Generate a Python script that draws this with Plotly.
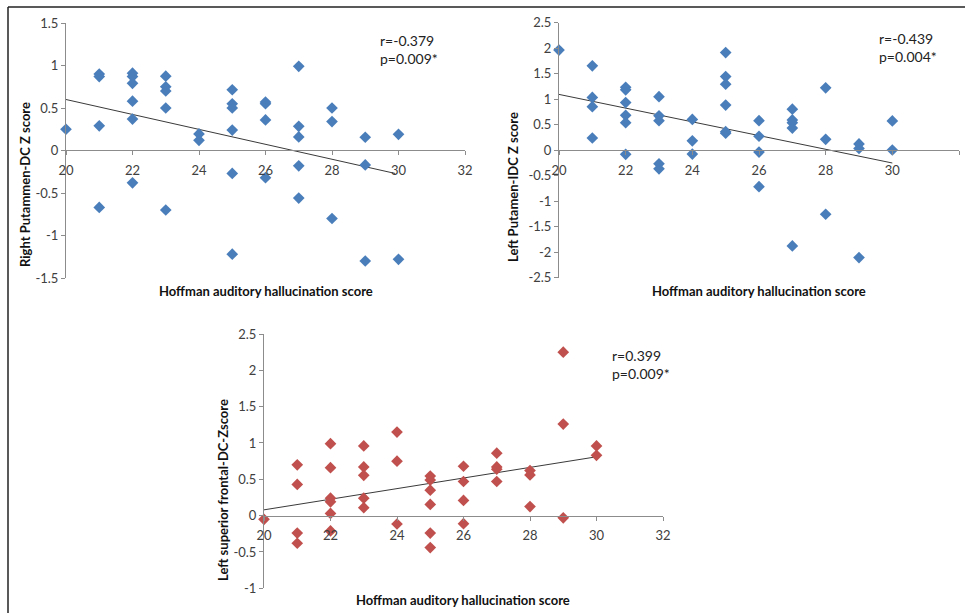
import plotly.graph_objects as go

W, H = 965, 613

# ---------------- data ----------------
# Panel A: Right Putammen-DC Z score
a_x = [20, 21, 21, 21, 21, 22, 22, 22, 22, 22, 22,
       23, 23, 23, 23, 23, 24, 24, 25, 25, 25, 25, 25, 25,
       26, 26, 26, 26, 27, 27, 27, 27, 27, 28, 28, 28, 29, 29, 29, 30, 30]
a_y = [0.25, 0.90, 0.87, 0.29, -0.67, 0.91, 0.87, 0.79, 0.58, 0.37, -0.38,
       0.875, 0.75, 0.70, 0.50, -0.70, 0.195, 0.12, 0.715, 0.55, 0.50, 0.24, -0.27, -1.22,
       0.57, 0.55, 0.36, -0.32, 0.99, 0.285, 0.16, -0.18, -0.56, 0.50, 0.34, -0.80,
       0.156, -0.17, -1.30, 0.19, -1.28]
a_trend_x = [20, 29.9]
a_trend_y = [0.60, -0.27]

# Panel B: Left Putamen-IDC Z score
b_x = [20, 21, 21, 21, 21, 22, 22, 22, 22, 22, 22,
       23, 23, 23, 23, 23, 24, 24, 24, 25, 25, 25, 25, 25, 25,
       26, 26, 26, 26, 27, 27, 27, 27, 27, 28, 28, 28, 29, 29, 29, 30, 30]
b_y = [1.96, 1.65, 1.03, 0.85, 0.235, 1.23, 1.18, 0.93, 0.68, 0.535, -0.085,
       1.045, 0.67, 0.575, -0.27, -0.37, 0.60, 0.18, -0.08, 1.91, 1.44, 1.29, 0.88, 0.36, 0.33,
       0.575, 0.27, -0.04, -0.72, 0.80, 0.59, 0.535, 0.43, -1.88, 1.22, 0.21, -1.26,
       0.12, 0.03, -2.11, 0.57, 0.0]
b_trend_x = [20, 30]
b_trend_y = [1.09, -0.255]

# Panel C: Left superior frontal-DC-Zscore
c_x = [20, 21, 21, 21, 21, 22, 22, 22, 22, 22, 22,
       23, 23, 23, 23, 23, 24, 24, 24, 25, 25, 25, 25, 25, 25,
       26, 26, 26, 26, 27, 27, 27, 27, 28, 28, 28, 29, 29, 29, 30, 30]
c_y = [-0.05, 0.70, 0.43, -0.24, -0.38, 0.99, 0.66, 0.24, 0.19, 0.03, -0.21,
       0.96, 0.67, 0.555, 0.24, 0.11, 1.15, 0.75, -0.115, 0.545, 0.49, 0.35, 0.155, -0.24, -0.44,
       0.68, 0.47, 0.21, -0.11, 0.86, 0.67, 0.64, 0.47, 0.62, 0.56, 0.125, 2.25, 1.26, -0.03, 0.96, 0.83]
c_trend_x = [20, 30]
c_trend_y = [0.08, 0.81]

x_tickvals = [20, 22, 24, 26, 28, 30, 32]
x_ticktext = ["20", "22", "24", "26", "28", "30", "32"]
a_yvals = [-1.5, -1, -0.5, 0, 0.5, 1, 1.5]
a_ytext = ["-1.5", "-1", "-0.5", "0", "0.5", "1", "1.5"]
b_yvals = [-2.5, -2, -1.5, -1, -0.5, 0, 0.5, 1, 1.5, 2, 2.5]
b_ytext = ["-2.5", "-2", "-1.5", "-1", "-0.5", "0", "0.5", "1", "1.5", "2", "2.5"]
c_yvals = [-1, -0.5, 0, 0.5, 1, 1.5, 2, 2.5]
c_ytext = ["-1", "-0.5", "0", "0.5", "1", "1.5", "2", "2.5"]

x_title = "Hoffman auditory hallucination score"
a_ytitle = "Right Putammen-DC Z score"
b_ytitle = "Left Putamen-IDC Z score"
c_ytitle = "Left superior frontal-DC-Zscore"
a_stats = "r=-0.379<br>p=0.009*"
b_stats = "r=-0.439<br>p=0.004*"
c_stats = "r=0.399<br>p=0.009*"

BLUE = "#4A7EBB"
RED = "#C0504D"
FONT = "Lato"

def px(x):
    return x / W

def py(y):
    return 1 - y / H

fig = go.Figure()

panels = [
    (a_x, a_y, a_trend_x, a_trend_y, BLUE, "x", "y", (66, 465), (23, 278), 150, a_yvals, a_ytext, [-1.5, 1.5]),
    (b_x, b_y, b_trend_x, b_trend_y, BLUE, "x2", "y2", (559, 959), (22.5, 277.5), 150, b_yvals, b_ytext, [-2.5, 2.5]),
    (c_x, c_y, c_trend_x, c_trend_y, RED, "x3", "y3", (264, 663), (334, 588.3), 515.7, c_yvals, c_ytext, [-1, 2.5]),
]

layout_axes = {}
for i, (xs, ys, tx, ty, col, xa, ya, xr, yr, y0, yv, yt, yrange) in enumerate(panels):
    fig.add_trace(go.Scatter(x=tx, y=ty, mode="lines", xaxis=xa, yaxis=ya,
                             line=dict(color="#3a3a3a", width=1), hoverinfo="skip",
                             showlegend=False, cliponaxis=False))
    fig.add_trace(go.Scatter(x=xs, y=ys, mode="markers", xaxis=xa, yaxis=ya,
                             marker=dict(symbol="diamond", size=9, color=col,
                                         line=dict(width=0)),
                             showlegend=False, cliponaxis=False))
    suffix = "" if i == 0 else str(i + 1)
    layout_axes["xaxis" + suffix] = dict(
        domain=[px(xr[0]), px(xr[1])], range=[20, 32], anchor="free", position=py(y0),
        tickvals=x_tickvals, ticktext=x_ticktext, ticks="outside", ticklen=4,
        ticklabelstandoff=4,
        tickcolor="#8c8c8c", showline=True, linecolor="#8c8c8c", linewidth=1,
        showgrid=False, zeroline=False, tickfont=dict(family=FONT, size=13, color="#404040"),
        fixedrange=True, automargin=False)
    layout_axes["yaxis" + suffix] = dict(
        domain=[py(yr[1]), py(yr[0])], range=yrange, anchor=xa,
        tickvals=yv, ticktext=yt, ticks="outside", ticklen=4,
        tickcolor="#8c8c8c", showline=True, linecolor="#8c8c8c", linewidth=1,
        showgrid=False, zeroline=False, tickfont=dict(family=FONT, size=13, color="#404040"),
        fixedrange=True, automargin=False)

fig.update_layout(**layout_axes)

ann = []
title_font = dict(family=FONT, size=13, color="#111111")
for cx, cy in [(266, 291), (759, 291), (463, 600)]:
    ann.append(dict(x=px(cx), y=py(cy), xref="paper", yref="paper", text="<b>" + x_title + "</b>",
                    showarrow=False, xanchor="center", yanchor="middle", font=title_font))
for t, cx, cy in [(a_ytitle, 25, 185), (b_ytitle, 513, 187), (c_ytitle, 223, 490)]:
    ann.append(dict(x=px(cx), y=py(cy), xref="paper", yref="paper", text="<b>" + t + "</b>",
                    textangle=-90, showarrow=False, xanchor="center", yanchor="middle",
                    font=title_font))
for t, cx, cy in [(a_stats, 378, 50), (b_stats, 877, 48), (c_stats, 610, 365)]:
    ann.append(dict(x=px(cx), y=py(cy), xref="paper", yref="paper", text=t, align="left",
                    showarrow=False, xanchor="left", yanchor="middle",
                    font=dict(family=FONT, size=14, color="#222222")))

shapes = [
    dict(type="line", xref="paper", yref="paper", x0=px(8), x1=1, y0=py(7), y1=py(7),
         line=dict(color="#222222", width=1.5)),
    dict(type="line", xref="paper", yref="paper", x0=px(8), x1=px(8), y0=py(7), y1=0,
         line=dict(color="#222222", width=1.5)),
]

fig.update_layout(width=W, height=H, margin=dict(l=0, r=0, t=0, b=0, autoexpand=False),
                  paper_bgcolor="white", plot_bgcolor="white",
                  annotations=ann, shapes=shapes, showlegend=False)

fig.write_html("out.html", config={"displayModeBar": False},
               post_script="document.body.style.margin='0';document.body.style.padding='0';")
